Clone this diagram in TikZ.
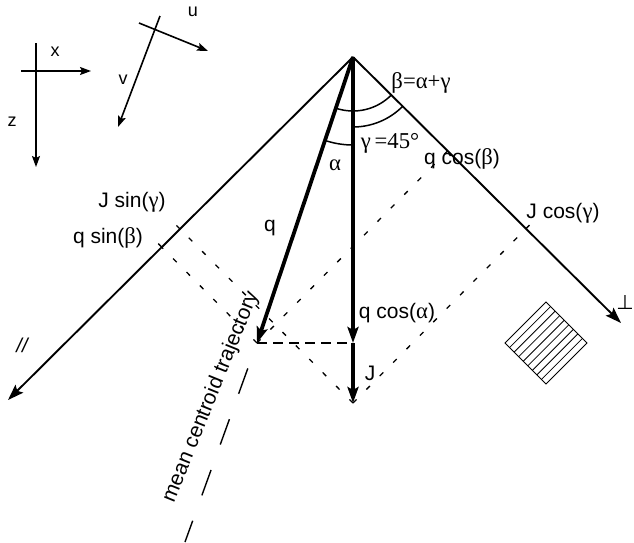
\documentclass[tikz,border=0pt]{standalone}
\usepackage{fontspec}
\setmainfont{Liberation Sans}
\newfontfamily\grf[Scale=1.08]{Liberation Serif}
\newfontfamily\djf{DejaVu Sans}
\usetikzlibrary{calc,arrows.meta}
\newcommand\mal{{\grf α}}
\newcommand\mbe{{\grf β}}
\newcommand\mga{{\grf γ}}
\begin{document}
\begin{tikzpicture}[x=1pt,y=1pt,yscale=-1,
  lab/.style={font=\fontsize{21}{25}\selectfont, inner sep=0pt},
  smalllab/.style={font=\fontsize{18}{21}\selectfont, inner sep=0pt},
  mainline/.style={line width=1.9pt, -{Stealth[length=16pt,width=11pt,inset=3pt]}},
  vecline/.style={line width=3.8pt, -{Stealth[length=16pt,width=11pt,inset=3pt]}},
  axisline/.style={line width=1.6pt, -{Stealth[length=11pt,width=8pt,inset=2pt]}},
  dotline/.style={line width=1.3pt, dash pattern=on 5pt off 14pt},
  dashline/.style={line width=1.4pt, dash pattern=on 10pt off 6pt},
  trajline/.style={line width=1.4pt, dash pattern=on 27pt off 27pt, dash phase=27pt},
  arcline/.style={line width=1.5pt},
  tickline/.style={line width=1.3pt},
  hatch/.style={line width=0.8pt}]
\useasboundingbox (0,0) rectangle (634,542);
% main points
\coordinate (O) at (353,57);
\coordinate (L) at (8,400);
\coordinate (R) at (621,323);
\coordinate (Qt) at (257,343);
\coordinate (Qc) at (353,343);
\coordinate (Jt) at (353,403);
\coordinate (E) at (185,542);
\coordinate (F1) at ($(O)!(Jt)!(L)$);
\coordinate (F2) at ($(O)!(Qt)!(L)$);
\coordinate (F3) at ($(O)!(Jt)!(R)$);
\coordinate (F4) at ($(O)!(Qt)!(R)$);
% projection lines
\draw[dotline] (Jt) -- (F1);
\draw[dotline] (Qt) -- (F2);
\draw[dotline] (Jt) -- (F3);
\draw[dotline] (Qt) -- (F4);
\draw[dashline] (Qt) -- (Qc);
\draw[trajline] (Qt) -- (E);
% ticks
\draw[tickline] (F1) -- ($(F1)!-5pt!(Jt)$);
\draw[tickline] (F2) -- ($(F2)!-5pt!(Qt)$);
\draw[tickline] (F3) -- ($(F3)!-5pt!(Jt)$);
% main axes
\draw[mainline] (O) -- (L);
\draw[mainline] (O) -- (R);
% vectors
\draw[vecline] (O) -- (Qt);
\draw[vecline] (O) -- (Qc);
\draw[vecline] (Qc) -- (Jt);
% angle arcs
\draw[arcline] ($(O)+(90:88)$) arc[start angle=90, end angle=108.6, radius=88];
\draw[arcline] ($(O)+(44.8:70)$) arc[start angle=44.8, end angle=90, radius=70];
\draw[arcline] ($(O)+(44.8:54)$) arc[start angle=44.8, end angle=108.6, radius=54];
% labels
\node[lab] (lb) at (421,83) {\grf β=α+γ};
\node[lab] (lg) at (390,143) {\grf γ\,=45°};
\node[lab] (la) at (335,165) {\mal};
\node[lab] (lqcb) at (462,159) {q cos(\mbe)};
\node[lab] (ljcg) at (563,213) {J cos(\mga)};
\node[lab] (ljsg) at (132,202) {J sin(\mga)};
\node[lab] (lqsb) at (108,238) {q sin(\mbe)};
\node[lab] (lq) at (270,228) {q};
\node[lab] (lqca) at (397,313) {q cos(\mal)};
\node[lab] (lJ) at (370,373) {J};
\node[smalllab, font=\fontsize{20}{24}\selectfont\itshape] (lpar) at (22,345) {//};
\node[smalllab, font=\fontsize{20}{24}\selectfont] (lperp) at (625,302) {\djf ⊥};
\node[lab, rotate=68] (traj) at (211,397) {mean centroid trajectory};
% coordinate frames
\coordinate (xa) at (21,71);
\coordinate (xb) at (91,71);
\coordinate (za) at (36,43);
\coordinate (zb) at (36,167);
\coordinate (ua) at (139,23);
\coordinate (ub) at (208,51);
\coordinate (va) at (160,16);
\coordinate (vb) at (118,127);
\draw[axisline] (xa) -- (xb);
\draw[axisline] (za) -- (zb);
\draw[axisline] (ua) -- (ub);
\draw[axisline] (va) -- (vb);
\node[smalllab] (lx) at (55,52) {x};
\node[smalllab] (lz) at (12,122) {z};
\node[smalllab] (lu) at (193,12) {u};
\node[smalllab] (lv) at (123,80) {v};
% hatched square
\coordinate (SA) at (546,302);
\coordinate (SB) at (587,343);
\coordinate (SC) at (546,384);
\coordinate (SD) at (505,343);
\draw[hatch] (SA) -- (SB) -- (SC) -- (SD) -- cycle;
\foreach \i in {1,...,8} {
  \draw[hatch] ($(SD)!\i/9!(SC)$) -- ($(SA)!\i/9!(SB)$);
}
\end{tikzpicture}
\end{document}
